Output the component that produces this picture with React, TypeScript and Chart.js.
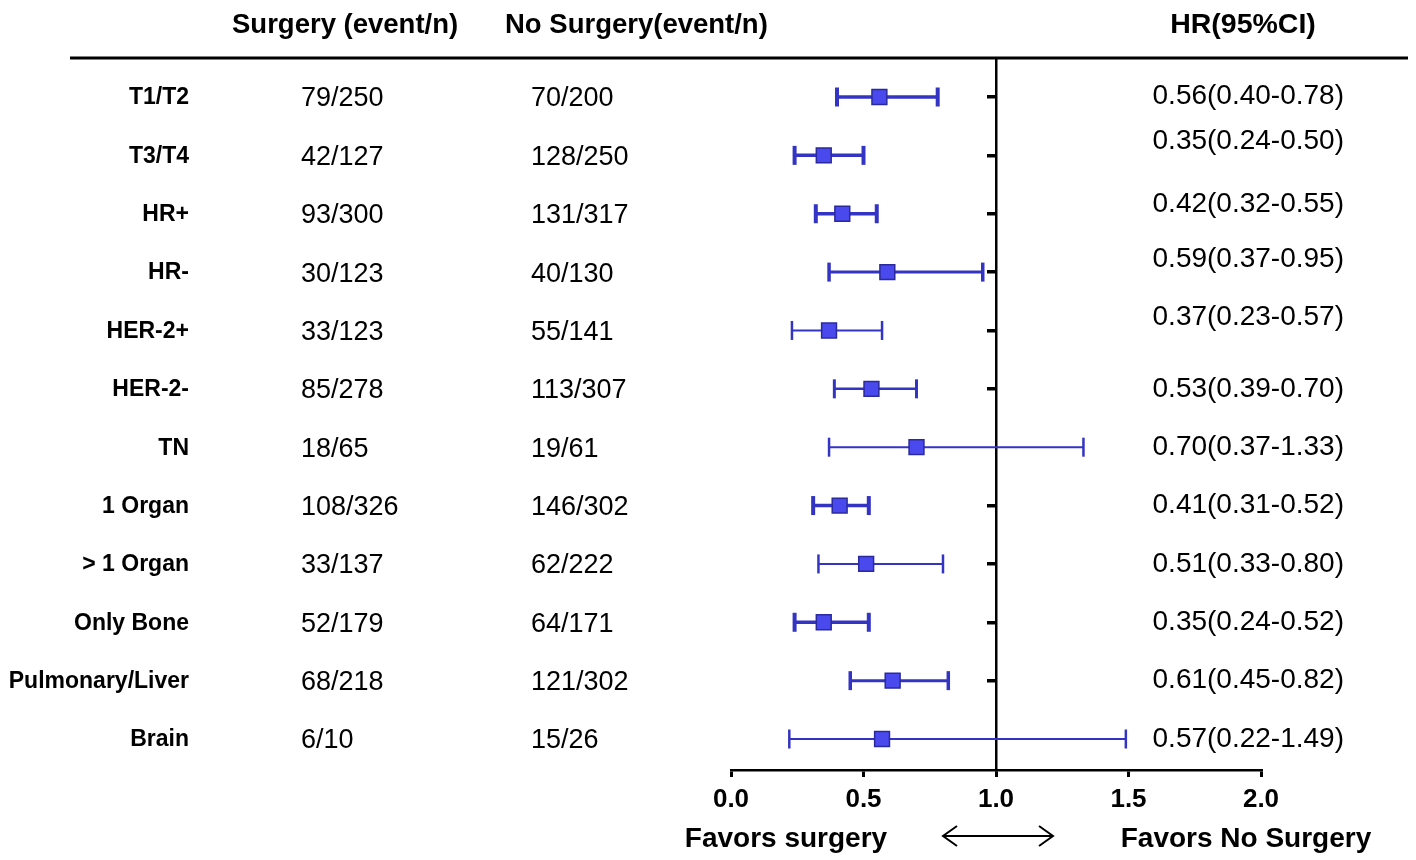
import React, { useEffect, useRef } from "react";
import { Chart, registerables } from "chart.js";

Chart.register(...registerables);

// ---------- data ----------
const subgroups = [
  "T1/T2", "T3/T4", "HR+", "HR-", "HER-2+", "HER-2-", "TN",
  "1 Organ", "> 1 Organ", "Only Bone", "Pulmonary/Liver", "Brain",
];
const surgeryEvents = [
  "79/250", "42/127", "93/300", "30/123", "33/123", "85/278", "18/65",
  "108/326", "33/137", "52/179", "68/218", "6/10",
];
const noSurgeryEvents = [
  "70/200", "128/250", "131/317", "40/130", "55/141", "113/307", "19/61",
  "146/302", "62/222", "64/171", "121/302", "15/26",
];
const hazardRatio = [0.56, 0.35, 0.42, 0.59, 0.37, 0.53, 0.70, 0.41, 0.51, 0.35, 0.61, 0.57];
const ciLow = [0.40, 0.24, 0.32, 0.37, 0.23, 0.39, 0.37, 0.31, 0.33, 0.24, 0.45, 0.22];
const ciHigh = [0.78, 0.50, 0.55, 0.95, 0.57, 0.70, 1.33, 0.52, 0.80, 0.52, 0.82, 1.49];
const xTickValues = [0, 0.5, 1, 1.5, 2];

const headerSurgery = "Surgery (event/n)";
const headerNoSurgery = "No Surgery(event/n)";
const headerHR = "HR(95%CI)";
const footerLeft = "Favors surgery";
const footerRight = "Favors No Surgery";

// ---------- styles ----------
const SANS = '"Liberation Sans", Arial, Helvetica, sans-serif';
const NARROW = '"Liberation Sans Narrow", "Arial Narrow", "Liberation Sans", Arial, sans-serif';
const CI_COLOR = "#3434c4";
const BOX_FILL = "#4949ee";
const BOX_EDGE = "#2a2a9e";
const ciLineWidth = [3.5, 3.5, 3.5, 3, 2, 2.5, 2, 3.5, 2, 3.5, 3, 2];
const hrTextNudge = [-1, -14, -9, -13, -13, 0, 0, 0, 0, 0, 0, 0];

const textPlugin = {
  id: "forestText",
  afterDraw(chart: any) {
    const { ctx } = chart;
    const y = chart.scales.y;
    ctx.save();
    ctx.fillStyle = "#000";
    ctx.textBaseline = "middle";

    // headers
    ctx.font = `bold 27.5px ${SANS}`;
    ctx.textAlign = "left";
    ctx.fillText(headerSurgery, 232, 25);
    ctx.fillText(headerNoSurgery, 505, 25);
    ctx.textAlign = "center";
    ctx.font = `bold 28.5px ${SANS}`;
    ctx.fillText(headerHR, 1243, 25);

    // header rule
    ctx.strokeStyle = "#000";
    ctx.lineWidth = 3;
    ctx.beginPath();
    ctx.moveTo(70, 58);
    ctx.lineTo(1408, 58);
    ctx.stroke();

    subgroups.forEach((name, i) => {
      const py = y.getPixelForValue(i + 1);
      ctx.font = `bold 23px ${SANS}`;
      ctx.textAlign = "right";
      ctx.fillText(name, 189, py + 1);

      ctx.font = `27px ${SANS}`;
      ctx.textAlign = "left";
      ctx.fillText(surgeryEvents[i], 301, py + 2);
      ctx.fillText(noSurgeryEvents[i], 531, py + 2);

      ctx.font = `28px ${SANS}`;
      ctx.textAlign = "right";
      const txt = `${hazardRatio[i].toFixed(2)}(${ciLow[i].toFixed(2)}-${ciHigh[i].toFixed(2)})`;
      ctx.fillText(txt, 1344, py + hrTextNudge[i]);
    });

    // footer
    ctx.font = `bold 28px ${SANS}`;
    ctx.textAlign = "center";
    ctx.fillText(footerLeft, 786, 839);
    ctx.fillText(footerRight, 1246, 839);

    // double arrow
    const ay = 836;
    const ax1 = 943;
    const ax2 = 1053;
    ctx.lineWidth = 2;
    ctx.beginPath();
    ctx.moveTo(ax1, ay);
    ctx.lineTo(ax2, ay);
    ctx.moveTo(ax1 + 14, ay - 10);
    ctx.lineTo(ax1, ay);
    ctx.lineTo(ax1 + 14, ay + 10);
    ctx.moveTo(ax2 - 14, ay - 10);
    ctx.lineTo(ax2, ay);
    ctx.lineTo(ax2 - 14, ay + 10);
    ctx.stroke();
    ctx.restore();
  },
};

export default function App() {
  const canvasRef = useRef<HTMLCanvasElement | null>(null);

  useEffect(() => {
    const canvas = canvasRef.current;
    if (!canvas) return;

    const boxDataset: any = {
      label: "HR",
      data: hazardRatio.map((v, i) => ({ x: v, y: i + 1 })),
      showLine: false,
      pointStyle: "rect",
      pointRadius: 10.5,
      pointHoverRadius: 10.5,
      backgroundColor: BOX_FILL,
      borderColor: BOX_EDGE,
      pointBackgroundColor: BOX_FILL,
      pointBorderColor: BOX_EDGE,
      pointBorderWidth: 1.5,
    };

    const ciDatasets: any[] = ciLow.map((lo, i) => ({
      label: subgroups[i],
      data: [
        { x: lo, y: i + 1 },
        { x: ciHigh[i], y: i + 1 },
      ],
      showLine: true,
      fill: false,
      borderColor: CI_COLOR,
      borderWidth: ciLineWidth[i],
      pointStyle: "line",
      pointRotation: 90,
      pointRadius: 9.5,
      pointHoverRadius: 9.5,
      pointBorderColor: CI_COLOR,
      pointBorderWidth: ciLineWidth[i] + 0.5,
      tension: 0,
    }));

    const chart = new Chart(canvas, {
      type: "line",
      data: { datasets: [boxDataset, ...ciDatasets] },
      options: {
        responsive: false,
        animation: false,
        events: [],
        layout: { padding: { left: 731, right: 155, top: 60, bottom: 0 } },
        plugins: { legend: { display: false }, tooltip: { enabled: false }, title: { display: false } },
        scales: {
          x: {
            type: "linear",
            position: "bottom",
            min: 0,
            max: 2,
            afterBuildTicks: (s: any) => {
              s.ticks = xTickValues.map((v) => ({ value: v }));
            },
            afterFit: (s: any) => {
              s.height = 90;
            },
            ticks: {
              autoSkip: false,
              maxRotation: 0,
              padding: 7,
              color: "#000",
              font: { family: NARROW, size: 26, weight: "bold" },
              callback: (v: any) => Number(v).toFixed(1),
            },
            grid: { drawOnChartArea: false, drawTicks: true, tickLength: 7, lineWidth: 3, color: "#000" },
            border: { display: true, color: "#000", width: 2.5 },
          },
          y: {
            type: "linear",
            reverse: true,
            min: 0.366,
            max: 12.531,
            position: { x: 1 } as any,
            afterBuildTicks: (s: any) => {
              s.ticks = subgroups.map((_, i) => ({ value: i + 1 }));
            },
            afterFit: (s: any) => {
              s.width = 0;
            },
            ticks: { display: false },
            grid: {
              drawOnChartArea: false,
              drawTicks: true,
              tickLength: 8,
              lineWidth: 3.5,
              color: (c: any) => {
                const idx = Math.round(c.tick ? c.tick.value : 0) - 1;
                if (idx >= 0 && idx < ciLow.length && ciLow[idx] < 1 && ciHigh[idx] > 1) return "rgba(0,0,0,0)";
                return "#000";
              },
            },
            border: { display: true, color: "#000", width: 2.5 },
          },
        },
      },
      plugins: [textPlugin],
    });

    return () => chart.destroy();
  }, []);

  return (
    <div style={{ position: "absolute", left: 0, top: 0, width: 1416, height: 860, background: "#fff" }}>
      <canvas ref={canvasRef} width={1416} height={860} style={{ width: 1416, height: 860, display: "block" }} />
    </div>
  );
}
